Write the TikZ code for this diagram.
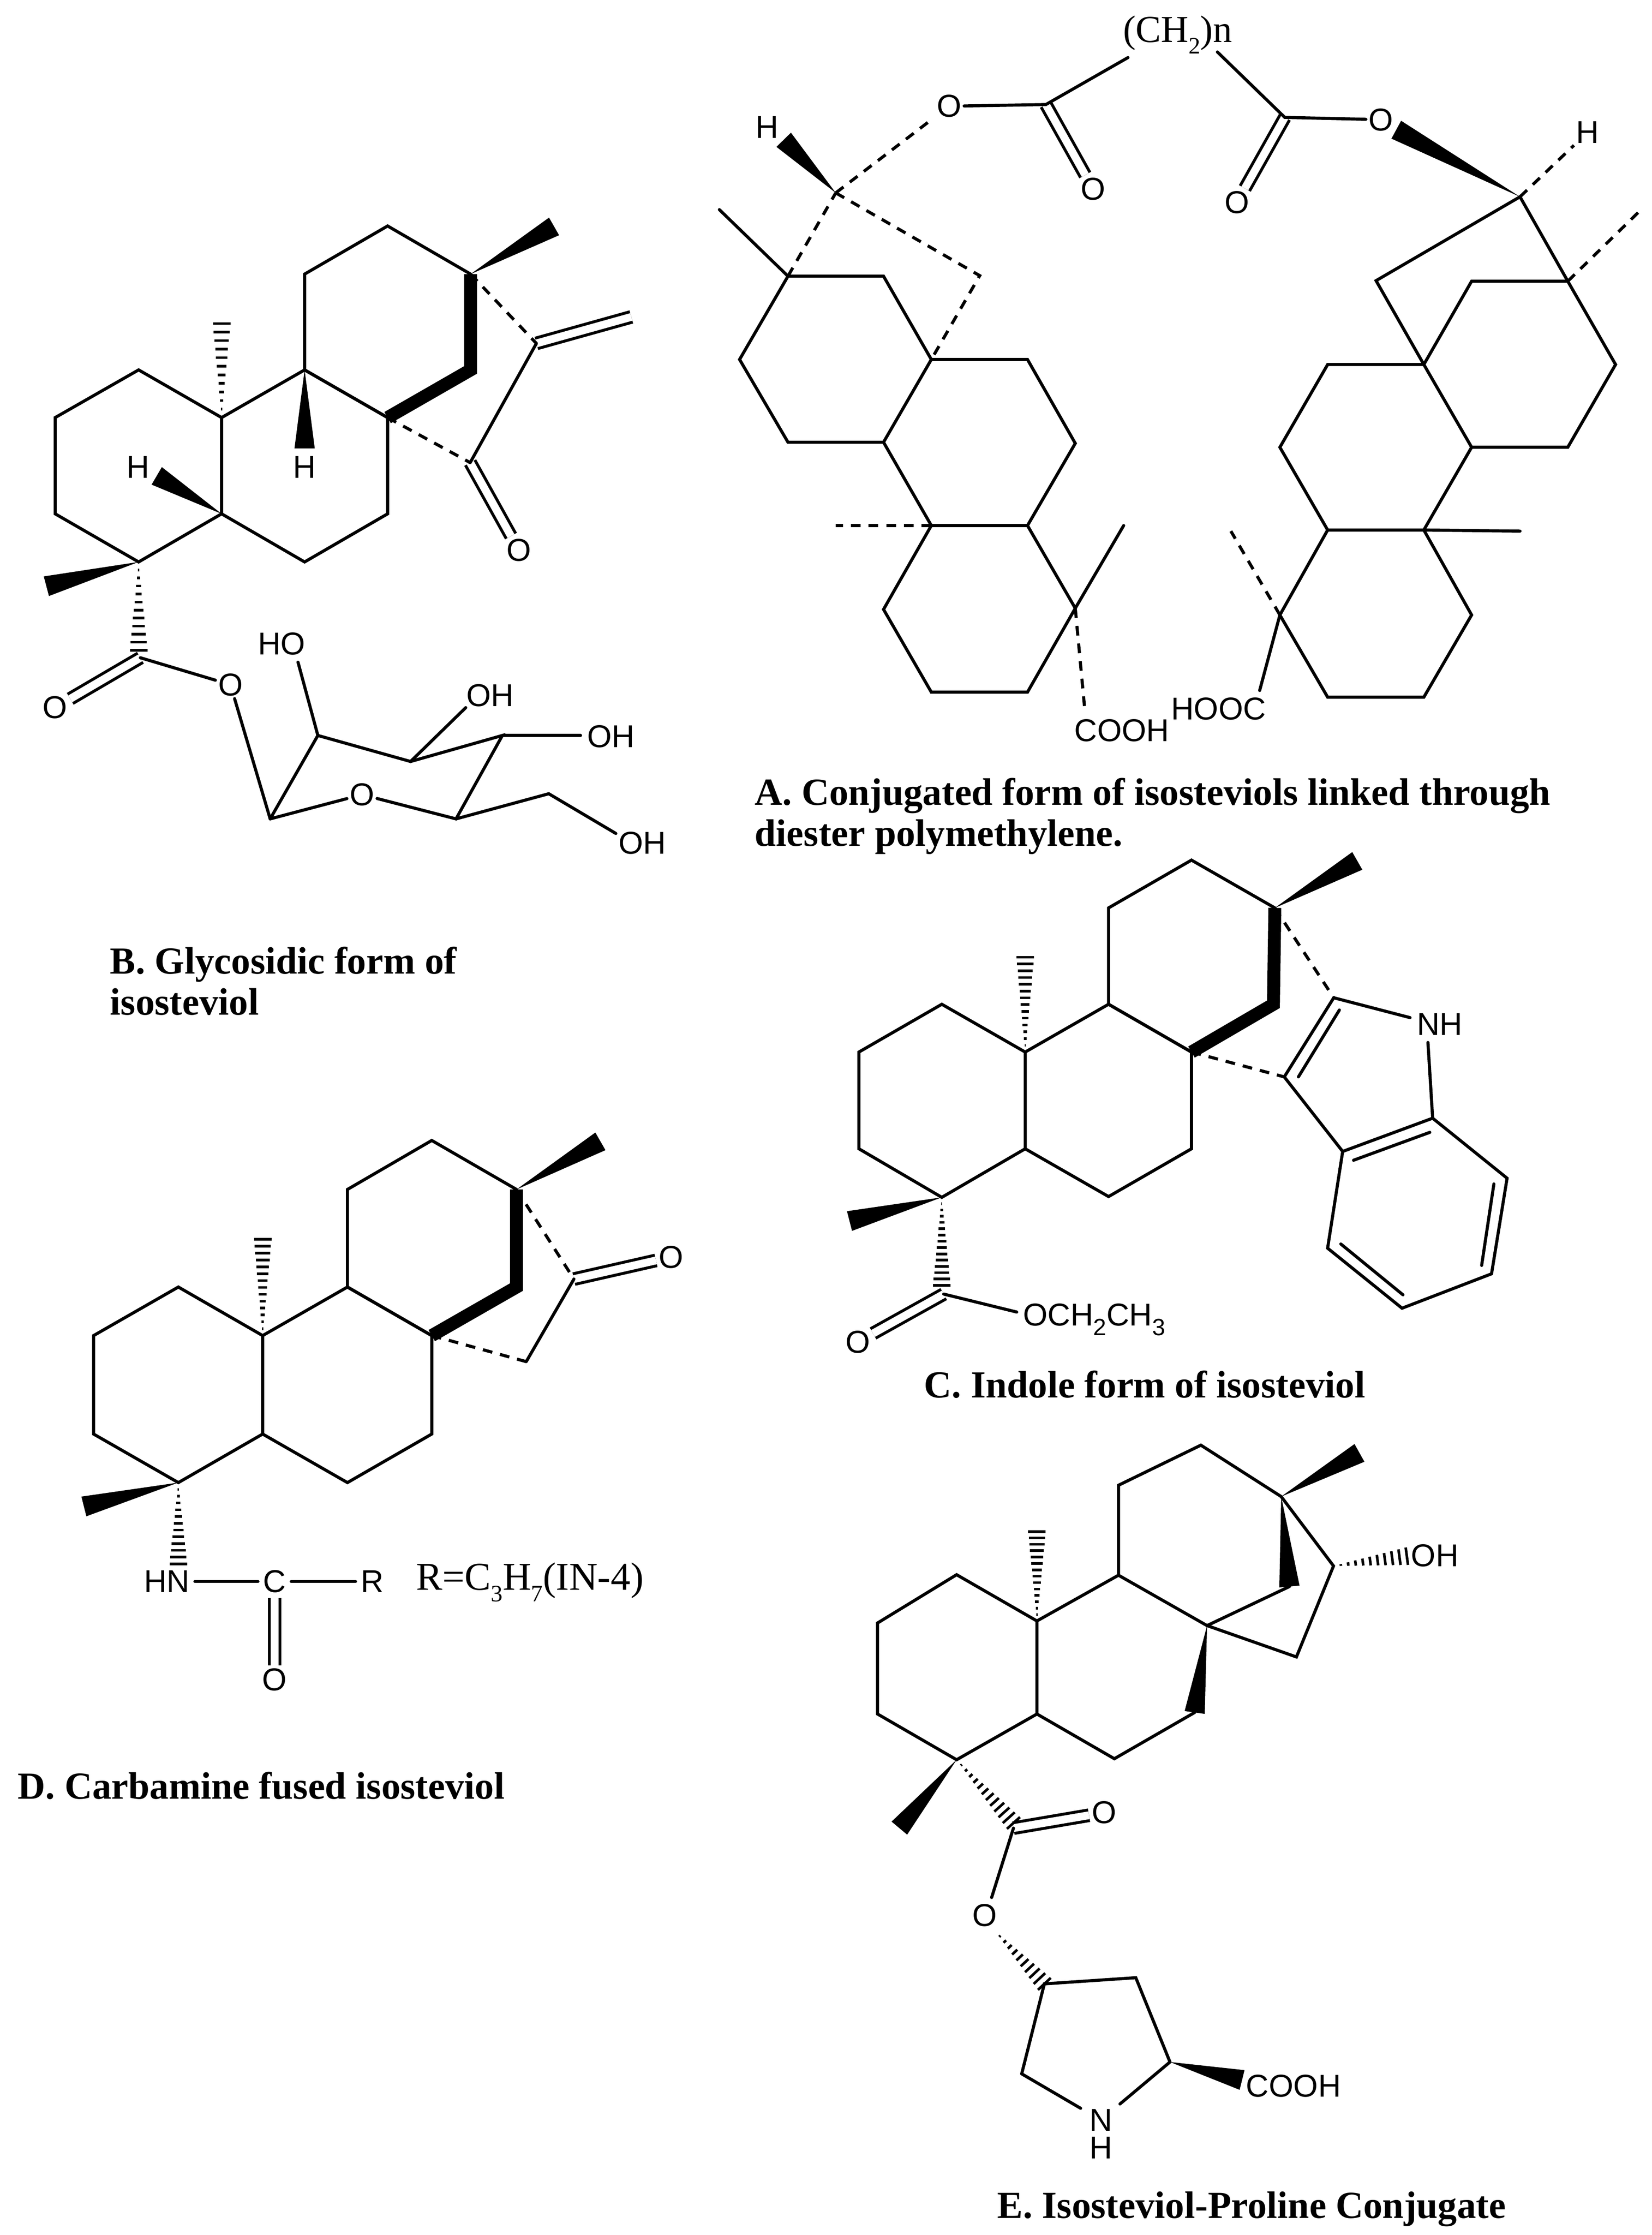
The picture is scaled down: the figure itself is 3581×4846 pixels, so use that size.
\documentclass[tikz,border=0pt]{standalone}
\usepackage{fontspec}
\setmainfont{Liberation Serif}
\setsansfont{Liberation Sans}
\usetikzlibrary{calc}

\tikzset{
	bond/.style={line width=1.9pt,line cap=round,line join=miter},
	dashbond/.style={line width=1.9pt,dash pattern=on 6pt off 4.9pt},
	dblbond/.style={line width=1.8pt,double,double distance=4.8pt},
	thickbond/.style={line width=0.28cm,line join=miter},
	hashline/.style={line width=1.6pt},
	atom/.style={font=\sffamily\fontsize{19.5}{19.5}\selectfont,inner sep=1.5pt},
	serifatom/.style={font=\fontsize{23.5}{23.5}\selectfont,inner sep=0pt},
	caption/.style={font=\bfseries\fontsize{23.6}{25.5}\selectfont,inner sep=0pt,align=left}
}
\newcommand{\subtxt}[1]{\raisebox{-0.3em}{\fontsize{14.5}{14.5}\selectfont #1}}
\newcommand{\wedgebond}[3][0.22cm]{\fill (#2) -- ($(#3)!#1!90:(#2)$) -- ($(#3)!#1!-90:(#2)$) -- cycle;}
\newcommand{\hashbond}[3][12]{
	\foreach \i in {1,...,#1} {
		\pgfmathsetmacro{\t}{\i/#1}
		\path ($(#2)!\t!(#3)$) coordinate (hm);
		\draw[hashline] ($(hm)!\t*0.19cm!90:(#2)$) -- ($(hm)!\t*0.19cm!-90:(#2)$);
	}
}

\begin{document}
\begin{tikzpicture}[x=0.01cm,y=-0.01cm]
	\useasboundingbox (0,0) rectangle (3581,4846);

	% B
	\begin{scope}[shift={(0,400)},x=0.009566cm,y=-0.009566cm]
		\foreach \n/\x/\y in {b1/314/420,b2/125/528,b3/125/746,b4/314/855,b5/502/746,b6/502/528,b7/690/420,b8/878/528,b9/878/746,b10/690/855,b11/690/203,b12/878/94,b13/1066/203,b14/1066/420,b15/1255/95,b16/1215/360,b17/1430/300,b18/1065/630,b19/502/315,b20/690/598,b21/355/660,b22/105/910,b23/314/1055,b24/318/1072,s1/612/1437,s2/720/1248,s3/930/1307,s4/1138/1248,s5/1033/1437,s6/1243/1380,s7/675/1082,s8/1055/1185,s9/1315/1248,s10/1395/1470}
			\coordinate (\n) at (\x,\y);
		\node[atom] (bo1) at (1175,828) {O};
		\node[atom] (bo2) at (125,1185) {O};
		\node[atom] (bo3) at (522,1133) {O};
		\node[atom] (bo4) at (820,1382) {O};
		\node[atom] (bh1) at (313,640) {H};
		\node[atom] (bh2) at (690,640) {H};
		\node[atom] (bho) at (638,1040) {HO};
		\node[atom] (boh1) at (1110,1157) {OH};
		\node[atom] (boh2) at (1384,1250) {OH};
		\node[atom] (boh3) at (1455,1492) {OH};

		\draw[dblbond] (b16) -- (b17);
		\draw[dblbond] (b18) -- (bo1);
		\draw[dblbond] (b24) -- (bo2);
		\draw[bond] (b6) -- (b1) -- (b2) -- (b3) -- (b4) -- (b5) -- cycle;
		\draw[bond] (b6) -- (b7) -- (b8) -- (b9) -- (b10) -- (b5);
		\draw[bond] (b7) -- (b11) -- (b12) -- (b13);
		\draw[thickbond] (b13) -- (b14) -- (b8);
		\draw[bond] (b7) -- (b8);
		\draw[dashbond] (b13) -- (b16);
		\draw[dashbond] (b8) -- (b18);
		\draw[bond] (b16) -- (b18);
		\draw[bond] (b24) -- (bo3) -- (s1);
		\draw[bond] (s1) -- (s2) -- (s3) -- (s4) -- (s5) -- (bo4) -- (s1);
		\draw[bond] (s5) -- (s6) -- (s10);
		\draw[bond] (s2) -- (s7);
		\draw[bond] (s3) -- (s8);
		\draw[bond] (s4) -- (s9);
		\wedgebond{b13}{b15}
		\wedgebond{b7}{b20}
		\wedgebond{b5}{b21}
		\wedgebond{b4}{b22}
		\hashbond[11]{b6}{b19}
		\hashbond[11]{b4}{b23}
	\end{scope}

	% A
	\begin{scope}[shift={(1500,0)},x=0.013272cm,y=-0.012117cm]
		\foreach \n/\x/\y in {l1/157/494,l2/313/494,l3/391/643,l4/313/791,l5/157/791,l6/78/643,l7/548/643,l8/626/793,l9/548/940,l10/391/940,l11/626/1088,l12/548/1238,l13/391/1238,l14/313/1090,l15/45/375,l16/235/345,l17/150/250,l18/470/493,l19/235/940,l20/705/940,l21/642/1275,e1/578/187,e2/712/103,e3/858/93,e4/968/210,r1/1273/503,r2/1430/503,r3/1508/652,r4/1430/800,r5/1273/800,r6/1195/652,r7/1195/948,r8/1038/948,r9/960/800,r10/1038/652,r11/1273/1100,r12/1195/1247,r13/1038/1247,r14/960/1100,r15/1352/352,r16/1117/502,r17/1545/380,r18/1352/950,r19/880/950,r20/927/1235,r21/1150/232,r22/1440/260}
			\coordinate (\n) at (\x,\y);
		\node[atom] (ao1) at (420,190) {O};
		\node[atom] (ao2) at (655,338) {O};
		\node[atom] (ao3) at (1125,214) {O};
		\node[atom] (ao4) at (890,362) {O};
		\node[atom] (ah1) at (123,228) {H};
		\node[atom] (ah2) at (1462,237) {H};
		\node[serifatom] (ach) at (793,62) {(CH\subtxt{2})n};
		\node[atom] (acooh) at (702,1307) {COOH};
		\node[atom] (ahooc) at (860,1268) {HOOC};

		\draw[dblbond] (e1) -- (ao2);
		\draw[dblbond] (e4) -- (ao4);
		\draw[bond] (l1) -- (l2) -- (l3) -- (l4) -- (l5) -- (l6) -- cycle;
		\draw[bond] (l3) -- (l7) -- (l8) -- (l9) -- (l10) -- (l4);
		\draw[bond] (l9) -- (l11) -- (l12) -- (l13) -- (l14) -- (l10);
		\draw[bond] (l1) -- (l15);
		\draw[bond] (l11) -- (l20);
		\draw[dashbond] (l1) -- (l16);
		\draw[dashbond] (l16) -- (l18) -- (l3);
		\draw[dashbond] (l16) -- (ao1);
		\draw[dashbond] (l10) -- (l19);
		\draw[dashbond] (l11) -- (l21);
		\wedgebond{l16}{l17}
		\draw[bond] (ao1) -- (e1) -- (e2);
		\draw[bond] (e3) -- (e4) -- (ao3);
		\wedgebond{r15}{r21}
		\draw[dashbond] (r15) -- (r22);
		\draw[bond] (r15) -- (r16) -- (r6);
		\draw[bond] (r15) -- (r2);
		\draw[dashbond] (r2) -- (r17);
		\draw[bond] (r1) -- (r2) -- (r3) -- (r4) -- (r5) -- (r6) -- cycle;
		\draw[bond] (r5) -- (r7) -- (r8) -- (r9) -- (r10) -- (r6);
		\draw[bond] (r7) -- (r11) -- (r12) -- (r13) -- (r14) -- (r8);
		\draw[bond] (r7) -- (r18);
		\draw[dashbond] (r14) -- (r19);
		\draw[bond] (r14) -- (r20);
	\end{scope}

	% C
	\begin{scope}[shift={(1750,1850)},x=0.010204cm,y=-0.008291cm]
		\foreach \n/\x/\y in {c1/286/395,c2/110/520,c3/110/773,c4/286/900,c5/463/773,c6/463/520,c7/640/395,c8/816/520,c9/816/773,c10/640/898,c11/640/143,c12/816/18,c13/993/143,c14/990/395,c15/1168/20,c16/463/272,c17/90/962,c18/286/1130,c19/290/1153,c20/445/1200,i1/1118/378,i2/1280/430,i3/1318/495,i4/1328/693,i5/1137/780,i6/1013/585,i7/1486/850,i8/1453/1100,i9/1263/1190,i10/1105/1033,i11/1130/410,i12/1043/585,i13/1322/730,i14/1160/803,i15/1458/865,i16/1432/1078,i17/1265/1155,i18/1133/1022}
			\coordinate (\n) at (\x,\y);
		\node[atom] (co) at (108,1278) {O};
		\node[atom] (cnh) at (1343,447) {NH};
		\node[atom,anchor=west,inner sep=0pt] (coet) at (458,1220) {OCH\subtxt{2}CH\subtxt{3}};

		\draw[dblbond] (c19) -- (co);
		\draw[bond] (c6) -- (c1) -- (c2) -- (c3) -- (c4) -- (c5) -- cycle;
		\draw[bond] (c6) -- (c7) -- (c8) -- (c9) -- (c10) -- (c5);
		\draw[bond] (c7) -- (c11) -- (c12) -- (c13);
		\draw[thickbond] (c13) -- (c14) -- (c8);
		\draw[bond] (c7) -- (c8);
		\draw[dashbond] (c13) -- (i1);
		\draw[dashbond] (c8) -- (i6);
		\draw[bond] (c19) -- (c20);
		\draw[bond] (i2) -- (i1) -- (i6) -- (i5) -- (i4) -- (i3);
		\draw[bond] (i4) -- (i7) -- (i8) -- (i9) -- (i10) -- (i5);
		\draw[bond] (i11) -- (i12);
		\draw[bond] (i13) -- (i14);
		\draw[bond] (i15) -- (i16);
		\draw[bond] (i17) -- (i18);
		\wedgebond{c13}{c15}
		\wedgebond{c4}{c17}
		\hashbond[14]{c6}{c16}
		\hashbond[14]{c4}{c18}
	\end{scope}

	% D
	\begin{scope}[shift={(0,2400)},x=0.009566cm,y=-0.009566cm]
		\foreach \n/\x/\y in {d1/404/408,d2/212/518,d3/212/741,d4/404/851,d5/595/741,d6/595/518,d7/787/408,d8/978/518,d9/978/741,d10/787/851,d11/787/187,d12/978/76,d13/1170/187,d14/1170/408,d15/1360/78,d16/1300/390,d17/1192/577,d18/595/300,d19/190/905,d20/404/1035}
			\coordinate (\n) at (\x,\y);
		\node[atom,inner sep=3pt] (dhn) at (378,1075) {HN};
		\node[atom,inner sep=3pt] (dc) at (622,1075) {C};
		\node[atom,inner sep=3pt] (dr) at (843,1075) {R};
		\node[atom] (do) at (622,1297) {O};
		\node[atom] (do2) at (1520,340) {O};
		\node[serifatom,anchor=base west,font=\fontsize{24.3}{24.3}\selectfont] (drdef) at (942,1094) {R=C\subtxt{3}H\subtxt{7}(IN-4)};

		\draw[dblbond] (d16) -- (do2);
		\draw[dblbond] (dc) -- (do);
		\draw[bond] (d6) -- (d1) -- (d2) -- (d3) -- (d4) -- (d5) -- cycle;
		\draw[bond] (d6) -- (d7) -- (d8) -- (d9) -- (d10) -- (d5);
		\draw[bond] (d7) -- (d11) -- (d12) -- (d13);
		\draw[thickbond] (d13) -- (d14) -- (d8);
		\draw[bond] (d7) -- (d8);
		\draw[dashbond] (d13) -- (d16);
		\draw[dashbond] (d8) -- (d17);
		\draw[bond] (d16) -- (d17);
		\draw[bond] (dhn) -- (dc) -- (dr);
		\wedgebond{d13}{d15}
		\wedgebond{d4}{d19}
		\hashbond[14]{d6}{d18}
		\hashbond[12]{d4}{d20}
	\end{scope}

	% E
	\begin{scope}[shift={(1800,3100)},x=0.008929cm,y=-0.011135cm]
		\foreach \n/\x/\y in {f1/307/282,f2/115/376,f3/115/553,f4/307/642,f5/502/553,f6/502/372,f7/700/283,f8/915/381,f9/885/550,f10/690/640,f11/700/108,f12/900/30,f13/1095/130,f14/1115/305,f15/1285/45,f16/1222/265,f17/1400/246,f18/1132/442,f19/502/198,f20/168/775,f21/445/765,f22/445/775,f23/392/910,p1/400/975,p2/520/1078,p3/742/1066,p4/825/1230,p5/465/1253,p6/1000/1265}
			\coordinate (\n) at (\x,\y);
		\node[atom] (foh) at (1468,245) {OH};
		\node[atom] (fo1) at (665,745) {O};
		\node[atom] (fo2) at (375,945) {O};
		\node[atom,inner sep=0pt] (fn) at (657,1343) {N};
		\node[atom,inner sep=0pt] (fh) at (657,1397) {H};
		\node[atom] (fcooh) at (1125,1277) {COOH};

		\draw[dblbond] (f22) -- (fo1);
		\draw[bond] (f6) -- (f1) -- (f2) -- (f3) -- (f4) -- (f5) -- cycle;
		\draw[bond] (f6) -- (f7) -- (f8);
		\draw[bond] (f9) -- (f10) -- (f5);
		\draw[bond] (f7) -- (f11) -- (f12) -- (f13);
		\draw[bond] (f14) -- (f8);
		\draw[bond] (f13) -- (f16) -- (f18) -- (f8);
		\draw[bond] (f22) -- (f23);
		\draw[bond,shorten >=6pt] (p4) -- (fn);
		\draw[bond,shorten <=6pt] (fn) -- (p5);
		\draw[bond] (p5) -- (p2) -- (p3) -- (p4);
		\wedgebond{f13}{f15}
		\wedgebond{f13}{f14}
		\wedgebond{f8}{f9}
		\wedgebond{f4}{f20}
		\wedgebond{p4}{p6}
		\hashbond[14]{f6}{f19}
		\hashbond[10]{f16}{f17}
		\hashbond[12]{f4}{f21}
		\hashbond[10]{p1}{p2}
	\end{scope}

	% captions
	\node[caption,anchor=north west] (capa) at (1636,1686) {A. Conjugated form of isosteviols linked through\\diester polymethylene.};
	\node[caption,anchor=north west] (capb) at (238,2052) {B. Glycosidic form of\\isosteviol};
	\node[caption,anchor=base west] (capc) at (2003,3030) {C. Indole form of isosteviol};
	\node[caption,anchor=base west] (capd) at (38,3900) {D. Carbamine fused isosteviol};
	\node[caption,anchor=base west] (cape) at (2162,4809) {E. Isosteviol-Proline Conjugate};
\end{tikzpicture}
\end{document}
